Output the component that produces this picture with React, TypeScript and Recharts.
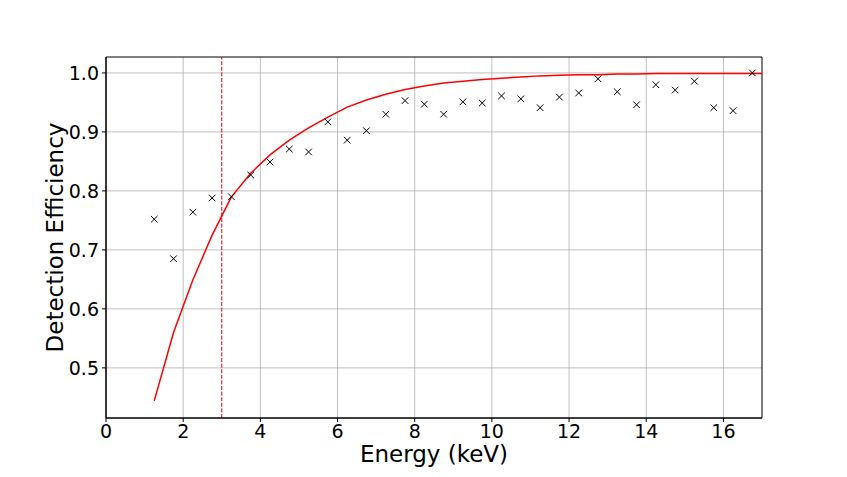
import React from 'react';
import {
  ComposedChart,
  Line,
  Scatter,
  XAxis,
  YAxis,
  CartesianGrid,
  ReferenceLine,
  ReferenceArea,
} from 'recharts';

const energies = [
  1.25, 1.75, 2.25, 2.75, 3.25, 3.75, 4.25, 4.75, 5.25, 5.75, 6.25, 6.75, 7.25, 7.75, 8.25, 8.75,
  9.25, 9.75, 10.25, 10.75, 11.25, 11.75, 12.25, 12.75, 13.25, 13.75, 14.25, 14.75, 15.25, 15.75,
  16.25, 16.75,
];
const measured = [
  0.752, 0.685, 0.764, 0.788, 0.79, 0.827, 0.849, 0.871, 0.866, 0.917, 0.886, 0.902, 0.93, 0.953,
  0.947, 0.93, 0.951, 0.949, 0.961, 0.956, 0.941, 0.959, 0.966, 0.99, 0.968, 0.946, 0.98, 0.971,
  0.986, 0.941, 0.936, 1.0,
];
const fitEnergies = [
  1.25, 1.75, 2.25, 2.75, 3.25, 3.75, 4.25, 4.75, 5.25, 5.75, 6.25, 6.75, 7.25, 7.75, 8.25, 8.75,
  9.25, 9.75, 10.25, 10.75, 11.25, 11.75, 12.25, 12.75, 13.25, 13.75, 14.25, 14.75, 15.25, 15.75,
  16.25, 16.75, 17.0,
];
const fitValues = [
  0.444, 0.56, 0.649, 0.725, 0.79, 0.83, 0.861, 0.886, 0.907, 0.925, 0.942, 0.954, 0.964, 0.972,
  0.978, 0.983, 0.986, 0.989, 0.991, 0.993, 0.995, 0.996, 0.997, 0.997, 0.998, 0.998, 0.999, 0.999,
  0.999, 0.999, 0.999, 0.999, 0.999,
];
const xTicks = [0, 2, 4, 6, 8, 10, 12, 14, 16];
const yTicks = [0.5, 0.6, 0.7, 0.8, 0.9, 1.0];
const thresholdEnergy = 3;
const xDomain: [number, number] = [0, 17];
const yDomain: [number, number] = [0.415, 1.027];

const points = energies.map((x, i) => ({ x, y: measured[i] }));
const fit = fitEnergies.map((x, i) => ({ x, y: fitValues[i] }));

const FONT = 'DejaVu Sans, sans-serif';

const Cross = (props: any) => {
  const { cx, cy } = props;
  const s = 3.3;
  return (
    <g>
      <line x1={cx - s} y1={cy - s} x2={cx + s} y2={cy + s} stroke="#000" strokeWidth={1} />
      <line x1={cx - s} y1={cy + s} x2={cx + s} y2={cy - s} stroke="#000" strokeWidth={1} />
    </g>
  );
};

const XTitle = (props: any) => {
  const vb = props.viewBox || {};
  return (
    <text
      x={vb.x + vb.width / 2}
      y={462}
      textAnchor="middle"
      fontFamily={FONT}
      fontSize={23}
      fill="#000"
    >
      Energy (keV)
    </text>
  );
};

const YTitle = (props: any) => {
  const vb = props.viewBox || {};
  const cy = vb.y + vb.height / 2;
  return (
    <text
      x={63}
      y={cy}
      transform={`rotate(-90, 63, ${cy})`}
      textAnchor="middle"
      fontFamily={FONT}
      fontSize={23}
      fill="#000"
    >
      Detection Efficiency
    </text>
  );
};

export default function App() {
  return (
    <div style={{ position: 'absolute', left: 0, top: 0, width: 847, height: 477, background: '#fff' }}>
      <ComposedChart
        width={847}
        height={477}
        margin={{ top: 57, right: 85, bottom: 0, left: 0 }}
      >
        <CartesianGrid stroke="#b0b0b0" strokeWidth={0.8} verticalValues={xTicks} horizontalValues={yTicks} />
        <XAxis
          type="number"
          dataKey="x"
          domain={xDomain}
          ticks={xTicks}
          allowDataOverflow
          height={59}
          tickSize={4}
          tickMargin={3}
          stroke="#000"
          tick={{ fontFamily: FONT, fontSize: 19, fill: '#000' }}
          tickLine={{ stroke: '#000' }}
          axisLine={{ stroke: '#000', strokeWidth: 1 }}
          label={<XTitle />}
        />
        <YAxis
          type="number"
          domain={yDomain}
          ticks={yTicks}
          allowDataOverflow
          width={106}
          tickSize={4}
          tickMargin={3}
          tickFormatter={(v: number) => v.toFixed(1)}
          tick={{ fontFamily: FONT, fontSize: 19, fill: '#000' }}
          tickLine={{ stroke: '#000' }}
          axisLine={{ stroke: '#000', strokeWidth: 1 }}
          label={<YTitle />}
        />
        <ReferenceLine x={thresholdEnergy} stroke="#e00000" strokeWidth={1} strokeDasharray="4 1.6" />
        <Line
          data={fit}
          dataKey="y"
          type="linear"
          stroke="#ff0000"
          strokeWidth={1.5}
          dot={false}
          activeDot={false}
          isAnimationActive={false}
        />
        <Scatter data={points} dataKey="y" shape={<Cross />} isAnimationActive={false} />
        <ReferenceArea
          x1={xDomain[0]}
          x2={xDomain[1]}
          y1={yDomain[0]}
          y2={yDomain[1]}
          fill="none"
          fillOpacity={0}
          stroke="#000"
          strokeWidth={1}
          ifOverflow="visible"
        />
      </ComposedChart>
    </div>
  );
}
